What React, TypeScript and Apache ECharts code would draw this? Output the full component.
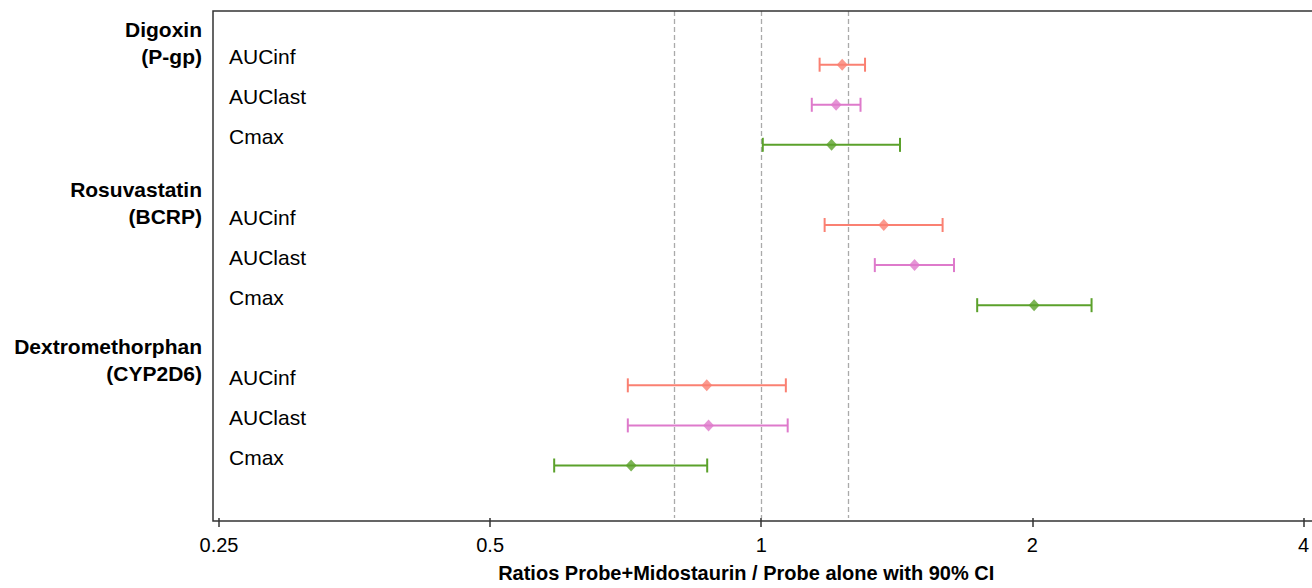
import React, { useEffect, useRef } from "react";
import * as echarts from "echarts";

const groupNames = ["Digoxin\n(P-gp)", "Rosuvastatin\n(BCRP)", "Dextromethorphan\n(CYP2D6)"];
const metricNames = ["AUCinf", "AUClast", "Cmax"];
const metricColors = ["#FA8072", "#DE7ACB", "#5BA12B"];

// values per metric, in group order: Digoxin, Rosuvastatin, Dextromethorphan
const aucinfRatio = [1.23, 1.368, 0.87];
const aucinfLower = [1.161, 1.176, 0.711];
const aucinfUpper = [1.304, 1.59, 1.065];

const auclastRatio = [1.211, 1.48, 0.874];
const auclastLower = [1.138, 1.337, 0.711];
const auclastUpper = [1.289, 1.637, 1.07];

const cmaxRatio = [1.197, 2.009, 0.717];
const cmaxLower = [1.004, 1.737, 0.589];
const cmaxUpper = [1.426, 2.327, 0.871];

const referenceLines = [0.8, 1, 1.25];
const xTicks = [0.25, 0.5, 1, 2, 4];
const xAxisTitle = "Ratios Probe+Midostaurin / Probe alone with 90% CI";

const FONT = "Liberation Sans, Arial, sans-serif";

export default function App() {
  const ref = useRef<HTMLDivElement>(null);
  useEffect(() => {
    if (!ref.current) return;
    const chart = echarts.init(ref.current, null, { renderer: "svg" });
    const ratios = [aucinfRatio, auclastRatio, cmaxRatio];
    const lowers = [aucinfLower, auclastLower, cmaxLower];
    const uppers = [aucinfUpper, auclastUpper, cmaxUpper];
    const rowOf = (g: number, m: number) => g * 4 + m + 1;

    const metricRows: number[] = [];
    groupNames.forEach((_, g) => metricNames.forEach((_, m) => metricRows.push(rowOf(g, m))));
    const groupOffsets = [0.46, 0.44, 0.36];
    const groupRows = groupNames.map((_, g) => g * 4 + groupOffsets[g]);

    const series: any[] = [];
    metricNames.forEach((name, m) => {
      const color = metricColors[m];
      series.push({
        type: "custom",
        name: name + " CI",
        yAxisIndex: 0,
        encode: { x: [0, 1], y: 2 },
        data: groupNames.map((_, g) => [lowers[m][g], uppers[m][g], rowOf(g, m)]),
        renderItem: (params: any, api: any) => {
          const lo = api.coord([api.value(0), api.value(2)]);
          const hi = api.coord([api.value(1), api.value(2)]);
          const h = 7;
          const style = { stroke: color, lineWidth: 2 };
          return {
            type: "group",
            children: [
              { type: "line", shape: { x1: lo[0], y1: lo[1], x2: hi[0], y2: hi[1] }, style },
              { type: "line", shape: { x1: lo[0], y1: lo[1] - h, x2: lo[0], y2: lo[1] + h }, style },
              { type: "line", shape: { x1: hi[0], y1: hi[1] - h, x2: hi[0], y2: hi[1] + h }, style },
            ],
          };
        },
        z: 3,
        markLine:
          m === 0
            ? {
                silent: true,
                symbol: "none",
                label: { show: false },
                lineStyle: { type: [5, 3], color: "#AAAAAA", width: 1.3 },
                data: referenceLines.map((v) => ({ xAxis: v })),
                z: 1,
              }
            : undefined,
      });
      series.push({
        type: "scatter",
        name,
        yAxisIndex: 0,
        symbol: "diamond",
        symbolSize: [11, 12],
        itemStyle: { color },
        data: groupNames.map((_, g) => [ratios[m][g], rowOf(g, m)]),
        z: 4,
      });
    });

    const yCommon = {
      type: "value",
      inverse: true,
      min: -0.34,
      max: 12.31,
      axisLine: { show: false },
      axisTick: { show: false },
      splitLine: { show: false },
    };

    chart.setOption({
      animation: false,
      grid: { left: 219, right: 5, top: 11, bottom: 67, containLabel: false },
      xAxis: {
        type: "log",
        logBase: 2,
        min: 0.25,
        max: 4,
        position: "bottom",
        axisLine: { show: false, onZero: false },
        axisTick: { show: true, length: 9, lineStyle: { color: "#333", width: 1.5 }, customValues: xTicks },
        axisLabel: {
          fontFamily: FONT,
          fontSize: 20,
          color: "#000",
          margin: 17,
          customValues: xTicks,
          formatter: (v: number) => String(+v.toPrecision(6)),
        },
        splitLine: { show: false },
        name: xAxisTitle,
        nameLocation: "middle",
        nameGap: 45,
        nameTextStyle: {
          fontFamily: FONT,
          fontSize: 20,
          fontWeight: "bold",
          color: "#000",
          padding: [0, 30, 0, 0],
        },
      },
      yAxis: [
        {
          ...yCommon,
          axisLabel: {
            inside: true,
            margin: 10,
            fontFamily: FONT,
            fontSize: 21,
            lineHeight: 16,
            color: "#000",
            verticalAlign: "bottom",
            customValues: metricRows,
            formatter: (v: number) => metricNames[(Math.round(v) - 1) % 4] ?? "",
          },
        },
        {
          ...yCommon,
          position: "left",
          axisLabel: {
            margin: 17,
            fontFamily: FONT,
            fontSize: 21,
            fontWeight: "bold",
            lineHeight: 27,
            color: "#000",
            align: "right",
            customValues: groupRows,
            formatter: (v: number) => groupNames[Math.round((v - 0.4) / 4)] ?? "",
          },
        },
      ],
      graphic: [
        {
          type: "rect",
          shape: { x: 213, y: 11, width: 1110, height: 510 },
          style: { fill: "none", stroke: "#333", lineWidth: 1.5 },
          silent: true,
          z: 10,
        },
      ],
      series,
    });
    return () => chart.dispose();
  }, []);
  return (
    <div
      ref={ref}
      style={{ position: "fixed", left: 0, top: 0, width: 1312, height: 588, background: "#fff" }}
    />
  );
}
